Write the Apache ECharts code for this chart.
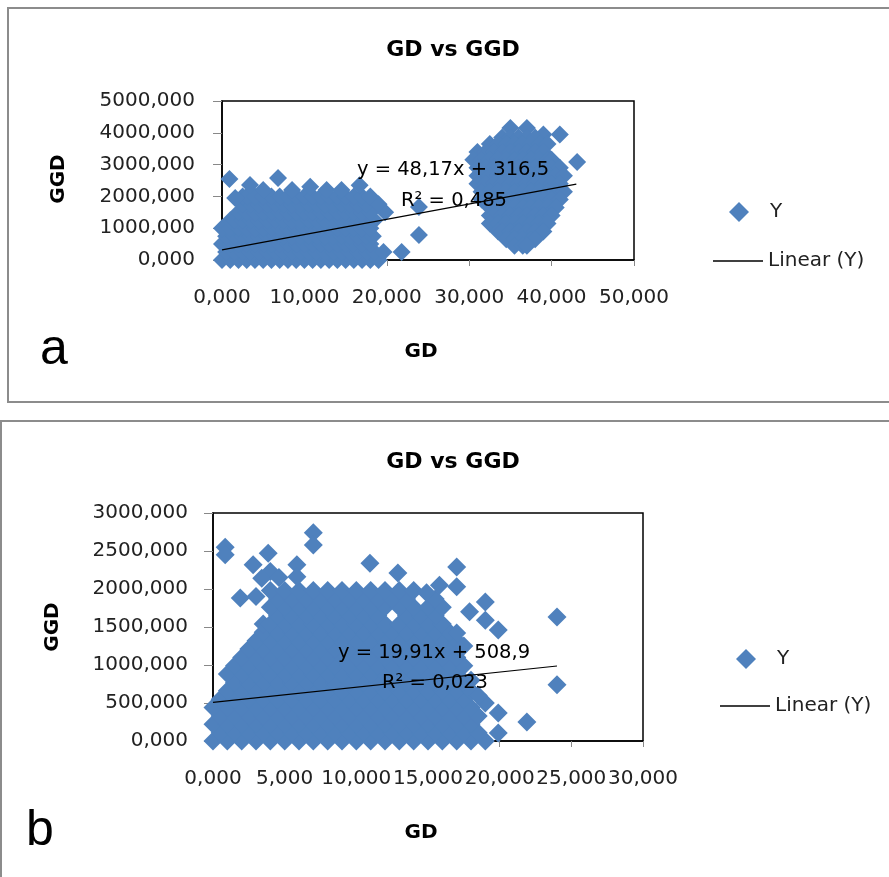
<!DOCTYPE html>
<html>
<head>
<meta charset="utf-8">
<script src="https://cdn.jsdelivr.net/npm/echarts@6/dist/echarts.min.js"></script>
<style>html,body{margin:0;padding:0;background:#fff;}#c{width:889px;height:877px;}</style>
</head>
<body>
<div id="c"></div>
<script>
// ---------- Panel a data (GD, GGD) ----------
const xTicksA = [0, 10, 20, 30, 40, 50];
const yTicksA = [0, 1000, 2000, 3000, 4000, 5000];
// rows of the dense left cloud: [GGD, [GD values]]
const cloudA = [
  [0,    [0,1,2,3,4,5,6,7,8,9,10,11,12,13,14,15,16,17,18,19]],
  [250,  [0.5,1.5,2.5,3.5,4.5,5.5,6.5,7.5,8.5,9.5,10.5,11.5,12.5,13.5,14.5,15.5,16.5,17.5,18.5,19.6]],
  [500,  [0,1,2,3,4,5,6,7,8,9,10,11,12,13,14,15,16,17,18]],
  [750,  [0.5,1.5,2.5,3.5,4.5,5.5,6.5,7.5,8.5,9.5,10.5,11.5,12.5,13.5,14.5,15.5,16.5,17.5,18.3]],
  [1000, [0,1,2,3,4,5,6,7,8,9,10,11,12,13,14,15,16,17,18]],
  [1250, [1,1.5,2.5,3.5,4.5,5.5,6.5,7.5,8.5,9.5,10.5,11.5,12.5,13.5,14.5,15.5,16.5,17.5,18.5]],
  [1500, [2,3,4,5,6,7,8,9,10,11,12,13,14,15,16,17,18,19.8]],
  [1750, [2.5,3.5,4.5,5.5,6.5,7.5,8.5,9.5,10.5,11.5,12.5,13.5,14.5,15.5,16.5,17.5,19]],
  [2000, [2.5,3,4,5,6,7,8,9,10,11,12,13,14,15,16,17,18]],
  [2200, [5,8.5,12.7,14.5]]
];
// rows of the right cluster
const clusterA = [
  [4150, [35,37]],
  [3950, [39,41]],
  [3850, [34,35,36,37,38]],
  [3650, [32.5,33.5,34.5,35.5,36.5,37.5,38.5,39.5]],
  [3400, [31,32,33,34,35,36,37,38,39]],
  [3150, [30.5,31.5,32.5,33.5,34.5,35.5,36.5,37.5,38.5,39.5,40]],
  [2900, [31,32,33,34,35,36,37,38,39,40,41]],
  [2650, [31,31.5,32.5,33.5,34.5,35.5,36.5,37.5,38.5,39.5,40.5,41.5]],
  [2400, [31,32,33,34,35,36,37,38,39,40,41]],
  [2150, [31.5,32.5,33.5,34.5,35.5,36.5,37.5,38.5,39.5,40.5,41.5]],
  [1900, [31.5,32,33,34,35,36,37,38,39,40,41]],
  [1650, [32.5,33.5,34.5,35.5,36.5,37.5,38.5,39.5,40.5]],
  [1400, [32.5,33,34,35,36,37,38,39,40]],
  [1150, [32.5,33.5,34.5,35.5,36.5,37.5,38.5,39.5]],
  [900,  [33.5,34,35,36,37,38,39]],
  [650,  [34.5,35.5,36.5,37.5,38]],
  [450,  [35.5,36.5,37]]
];
const singlesA = [[0.9,2550],[1.6,1950],[3.4,2360],[6.8,2580],[10.7,2300],[16.7,2350],
  [21.8,250],[23.9,1670],[23.9,790],[43.1,3080]];
const trendA = [[0,316.5],[43,2387.8]];

// ---------- Panel b data ----------
const xTicksB = [0, 5, 10, 15, 20, 25, 30];
const yTicksB = [0, 500, 1000, 1500, 2000, 2500, 3000];
const cloudB = [
  [0,    [0,1,2,3,4,5,6,7,8,9,10,11,12,13,14,15,16,17,18,19]],
  [110,  [0.5,1.5,2.5,3.5,4.5,5.5,6.5,7.5,8.5,9.5,10.5,11.5,12.5,13.5,14.5,15.5,16.5,17.5,18.5]],
  [220,  [0,1,2,3,4,5,6,7,8,9,10,11,12,13,14,15,16,17,18]],
  [330,  [0.5,1.5,2.5,3.5,4.5,5.5,6.5,7.5,8.5,9.5,10.5,11.5,12.5,13.5,14.5,15.5,16.5,17.5,18.5]],
  [440,  [0,1,2,3,4,5,6,7,8,9,10,11,12,13,14,15,16,17,18]],
  [550,  [0.5,1.5,2.5,3.5,4.5,5.5,6.5,7.5,8.5,9.5,10.5,11.5,12.5,13.5,14.5,15.5,16.5,17.5]],
  [660,  [1,2,3,4,5,6,7,8,9,10,11,12,13,14,15,16,17,18]],
  [770,  [1.5,2.5,3.5,4.5,5.5,6.5,7.5,8.5,9.5,10.5,11.5,12.5,13.5,14.5,15.5,16.5,17.5]],
  [880,  [1,2,3,4,5,6,7,8,9,10,11,12,13,14,15,16,17]],
  [990,  [1.5,2.5,3.5,4.5,5.5,6.5,7.5,8.5,9.5,10.5,11.5,12.5,13.5,14.5,15.5,16.5,17.5]],
  [1100, [2,3,4,5,6,7,8,9,10,11,12,13,14,15,16,17]],
  [1210, [2.5,3.5,4.5,5.5,6.5,7.5,8.5,9.5,10.5,11.5,12.5,13.5,14.5,15.5,16.5]],
  [1320, [3,4,5,6,7,8,9,10,11,12,13,14,15,16,17]],
  [1430, [3.5,4.5,5.5,6.5,7.5,8.5,9.5,10.5,11.5,12.5,13.5,14.5,15.5,16.5]],
  [1540, [3.5,4,5,6,7,8,9,10,11,12,13,14,15,16]],
  [1650, [4.5,5.5,6.5,7.5,8.5,9.5,10.5,11.5,13.5,14.5,15.5]],
  [1760, [4,5,6,7,8,9,10,11,12,13,14,15,16]],
  [1870, [4.5,5.5,6.5,7.5,8.5,9.5,10.5,11.5,12.5,13.5,15.5]],
  [1980, [4,5,6,7,8,9,10,11,12,13,14]]
];
const singlesB = [[0.85,2550],[0.85,2450],[7,2740],[7,2580],[3.85,2470],[2.8,2320],[5.85,2320],
  [4,2230],[3.4,2140],[4.6,2150],[5.85,2160],[1.9,1880],[3,1900],[10.95,2340],[12.9,2210],
  [15.8,2050],[17,2290],[17,2030],[14.9,1950],[17.9,1700],[19,1830],[19,1590],[19.9,1460],
  [24,1630],[24,740],[21.9,250],[19.9,370],[19,500],[19.9,105],[17,1420],[17,1100],[17.5,1250],
  [18,800],[18.5,600]];
const trendB = [[0,508.9],[24,986.7]];

function expand(rows, extra){
  const out = [];
  rows.forEach(function(r){ r[1].forEach(function(x){ out.push([x, r[0]]); }); });
  return out.concat(extra || []);
}
const dataA = expand(cloudA, expand(clusterA, singlesA));
const dataB = expand(cloudB, singlesB);

const FONT = "'DejaVu Sans', sans-serif";
const BLUE = '#4F81BD';
const fmt = function(v){ return v.toFixed(3).replace('.', ','); };

function xAxisCfg(grid, ticks){
  return {
    gridIndex: grid, type: 'value', min: ticks[0], max: ticks[ticks.length-1],
    interval: ticks[1]-ticks[0],
    axisLine: {show: true, onZero: false, lineStyle: {color: '#000', width: 1.5}},
    axisTick: {show: true, length: 6, lineStyle: {color: '#888'}},
    splitLine: {show: false},
    axisLabel: {formatter: fmt, fontFamily: FONT, fontSize: 20, color: '#222', margin: 28, hideOverlap: false}
  };
}
function yAxisCfg(grid, ticks, margin){
  return {
    gridIndex: grid, type: 'value', min: ticks[0], max: ticks[ticks.length-1],
    interval: ticks[1]-ticks[0],
    axisLine: {show: true, onZero: false, lineStyle: {color: '#000', width: 1.5}},
    axisTick: {show: true, length: 9, lineStyle: {color: '#888'}},
    splitLine: {show: false},
    axisLabel: {formatter: fmt, fontFamily: FONT, fontSize: 20, color: '#222', margin: margin}
  };
}
function txt(text, x, y, size, bold, rot, family){
  return {type: 'text', x: x, y: y, rotation: rot || 0, z: 100,
    style: {text: text, fill: '#000', textAlign: 'center', textVerticalAlign: 'middle',
      font: (bold ? 'bold ' : '') + size + 'px ' + (family || FONT)}};
}
const legendBase = {orient: 'vertical', padding: 0, itemWidth: 50, itemHeight: 16, selectedMode: false,
  textStyle: {fontFamily: FONT, fontSize: 20, color: '#222'}};
const legY = {name: 'Y', icon: 'diamond', itemStyle: {color: BLUE}};
const legL = {name: 'Linear (Y)', icon: 'rect', itemStyle: {color: '#000', borderWidth: 0}};
const legYStyle = {itemWidth: 20, itemHeight: 20,
  textStyle: {fontFamily: FONT, fontSize: 20, color: '#222', padding: [0, 0, 0, 16]}};

const chart = echarts.init(document.getElementById('c'), null, {renderer: 'canvas'});
chart.setOption({
  animation: false,
  backgroundColor: '#fff',
  grid: [
    {left: 222, top: 101, width: 412, height: 159, show: true, borderColor: '#000', borderWidth: 1.5, backgroundColor: 'transparent'},
    {left: 213, top: 513, width: 430, height: 228, show: true, borderColor: '#000', borderWidth: 1.5, backgroundColor: 'transparent'}
  ],
  xAxis: [xAxisCfg(0, xTicksA), xAxisCfg(1, xTicksB)],
  yAxis: [yAxisCfg(0, yTicksA, 27), yAxisCfg(1, yTicksB, 25)],
  legend: [
    Object.assign({}, legendBase, legYStyle, {data: [legY], left: 729, top: 202}),
    Object.assign({}, legendBase, {data: [legL], left: 713, top: 251, itemHeight: 1.3}),
    Object.assign({}, legendBase, legYStyle, {data: [legY], left: 736, top: 649}),
    Object.assign({}, legendBase, {data: [legL], left: 720, top: 696, itemHeight: 1.3})
  ],
  series: [
    {name: 'Y', type: 'scatter', xAxisIndex: 0, yAxisIndex: 0, data: dataA, symbol: 'diamond', symbolSize: 18,
      clip: false, itemStyle: {color: BLUE, opacity: 1}, z: 2},
    {name: 'Linear (Y)', type: 'line', xAxisIndex: 0, yAxisIndex: 0, data: trendA, symbol: 'none',
      lineStyle: {color: '#000', width: 1.2}, itemStyle: {color: '#000'}, z: 5},
    {name: 'Y', type: 'scatter', xAxisIndex: 1, yAxisIndex: 1, data: dataB, symbol: 'diamond', symbolSize: 19,
      clip: false, itemStyle: {color: BLUE, opacity: 1}, z: 2},
    {name: 'Linear (Y)', type: 'line', xAxisIndex: 1, yAxisIndex: 1, data: trendB, symbol: 'none',
      lineStyle: {color: '#000', width: 1.2}, itemStyle: {color: '#000'}, z: 5}
  ],
  graphic: [
    {type: 'rect', shape: {x: 8, y: 8, width: 900, height: 394}, style: {fill: 'none', stroke: '#8c8c8c', lineWidth: 2}, z: -1},
    {type: 'rect', shape: {x: 1, y: 421, width: 900, height: 470}, style: {fill: 'none', stroke: '#8c8c8c', lineWidth: 2}, z: -1},
    txt('GD vs GGD', 453, 50, 22, true),
    txt('GD vs GGD', 453, 462, 22, true),
    txt('GGD', 59, 179, 20, true, Math.PI/2),
    txt('GD', 421, 352, 20, true),
    txt('GGD', 53, 627, 20, true, Math.PI/2),
    txt('GD', 421, 833, 20, true),
    txt('a', 54, 350, 50, false, 0, "'Liberation Sans', Arial, sans-serif"),
    txt('b', 40, 831, 50, false, 0, "'Liberation Sans', Arial, sans-serif"),
    txt('y = 48,17x + 316,5', 453, 170, 19.5, false),
    txt('R² = 0,485', 454, 201, 19.5, false),
    txt('y = 19,91x + 508,9', 434, 653, 19.5, false),
    txt('R² = 0,023', 435, 683, 19.5, false)
  ]
});
</script>
</body>
</html>
